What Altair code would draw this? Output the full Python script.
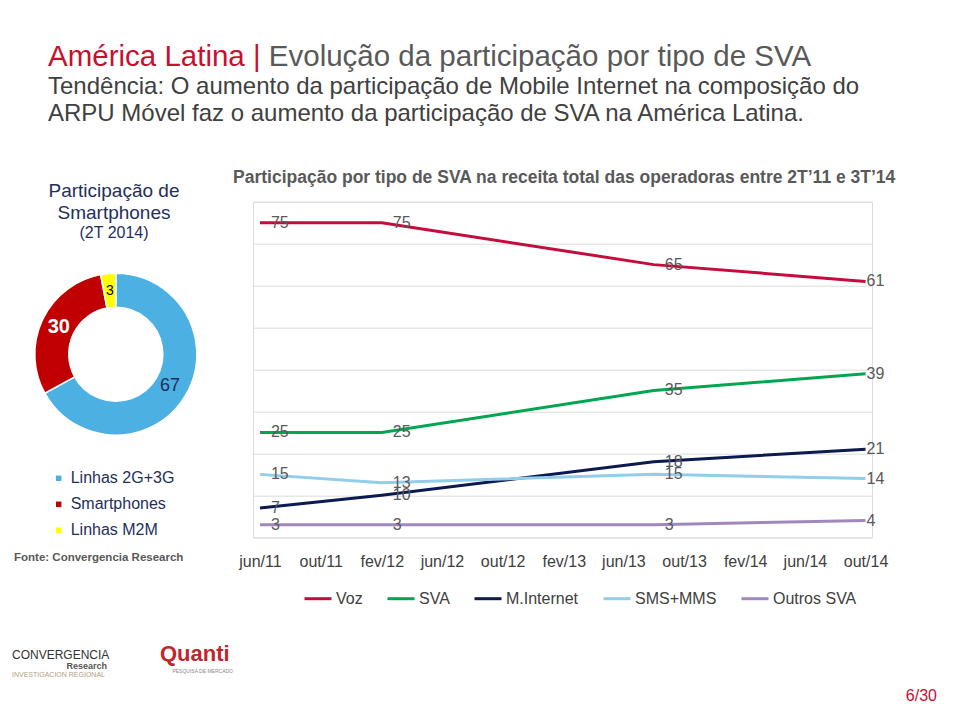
import altair as alt
import pandas as pd

FONT = "Liberation Sans"

# ---------------- data ----------------
PERIODS = ["2011-06-01", "2012-02-01", "2013-08-01", "2014-10-01"]
SERIES = ["Voz", "SVA", "M.Internet", "SMS+MMS", "Outros SVA"]
VOZ = [75, 75, 65, 61]
SVA = [25, 25, 35, 39]
M_INTERNET = [7, 10, 18, 21]
SMS_MMS = [15, 13, 15, 14]
OUTROS_SVA = [3, 3, 3, 4]
SERIES_COLORS = ["#c40d3c", "#00a650", "#0b1a4f", "#92cde9", "#a088bd"]

TICK_KEYS = ["2011-06", "2011-10", "2012-02", "2012-06", "2012-10", "2013-02",
             "2013-06", "2013-10", "2014-02", "2014-06", "2014-10"]
TICK_LABELS = ["jun/11", "out/11", "fev/12", "jun/12", "out/12", "fev/13",
               "jun/13", "out/13", "fev/14", "jun/14", "out/14"]

DONUT_CATS = ["Linhas 2G+3G", "Smartphones", "Linhas M2M"]
DONUT_VALS = [67, 30, 3]
DONUT_COLORS = ["#4cb0e3", "#c00000", "#ffff00"]

# ---------------- tables ----------------
rows = []
for name, vals in zip(SERIES, [VOZ, SVA, M_INTERNET, SMS_MMS, OUTROS_SVA]):
    for i, (p, v) in enumerate(zip(PERIODS, vals)):
        rows.append({"serie": name, "date": p, "value": v, "idx": i})
line_df = pd.DataFrame(rows)

donut_df = pd.DataFrame({"cat": DONUT_CATS, "val": DONUT_VALS,
                         "ord": list(range(len(DONUT_CATS)))})
ONE = pd.DataFrame({"k": [0]})

# ---------------- layout (page coords of the plot area) ----------------
X0, Y0 = 253.0, 201.7
PW, PH = 619, 335.6
CANVAS_W, CANVAS_H = 944, 695
PAD = {"left": X0 - 8, "top": Y0 - 8,
       "right": CANVAS_W - (X0 - 8) - PW, "bottom": CANVAS_H - (Y0 - 8) - PH}


def dt(key, day=1):
    y, m = key.split("-")
    return alt.DateTime(year=int(y), month=int(m), date=day, utc=True)


keys_js = "[" + ",".join(f"'{k}'" for k in TICK_KEYS) + "]"
labs_js = "[" + ",".join(f"'{l}'" for l in TICK_LABELS) + "]"
label_expr = f"{labs_js}[indexof({keys_js}, utcFormat(datum.value, '%Y-%m'))]"

x_enc = alt.X(
    "date:T",
    scale=alt.Scale(type="utc", domain=[dt("2011-05", 18), dt("2014-10", 14)]),
    axis=alt.Axis(values=[dt(k) for k in TICK_KEYS], labelExpr=label_expr,
                  title=None, grid=False, ticks=False, domain=False,
                  labelFontSize=16, labelColor="#404040", labelFont=FONT,
                  labelPadding=16, labelFlush=False, labelOverlap=False),
)
y_enc = alt.Y(
    "value:Q",
    scale=alt.Scale(domain=[0, 80], nice=False),
    axis=alt.Axis(values=list(range(0, 81, 10)), labels=False, ticks=False,
                  domain=False, title=None, grid=True, gridColor="#dcdcdc",
                  gridWidth=1),
)

lines = alt.Chart(line_df).mark_line(strokeWidth=3).encode(
    x=x_enc, y=y_enc,
    color=alt.Color(
        "serie:N",
        scale=alt.Scale(domain=SERIES, range=SERIES_COLORS),
        legend=alt.Legend(orient="none", legendX=50, legendY=382,
                          direction="horizontal", title=None,
                          symbolType="stroke", symbolStrokeWidth=3,
                          symbolSize=729, labelFontSize=16,
                          labelColor="#404040", labelFont=FONT,
                          columnPadding=18, labelOffset=3, padding=0),
    ),
    order=alt.Order("idx:Q"),
)

lab_common = dict(baseline="middle", fontSize=16, color="#595959", font=FONT,
                  align="left")
labels_a = alt.Chart(line_df).transform_filter("datum.idx < 3").mark_text(
    dx=11, **lab_common).encode(x="date:T", y="value:Q", text="value:Q")
labels_b = alt.Chart(line_df).transform_filter("datum.idx == 3").mark_text(
    dx=1, **lab_common).encode(x="date:T", y="value:Q", text="value:Q")

# ---------------- donut ----------------
DCX, DCY = 115.8 - X0, 354.2 - Y0
arc = alt.Chart(donut_df).mark_arc(
    innerRadius=47, outerRadius=81, stroke="white", strokeWidth=1.5
).encode(
    theta=alt.Theta("val:Q", stack=True),
    order=alt.Order("ord:Q"),
    color=alt.Color(
        "cat:N",
        scale=alt.Scale(domain=DONUT_CATS, range=DONUT_COLORS),
        legend=alt.Legend(orient="none", legendX=50.7 - X0, legendY=470.3 - Y0,
                          direction="vertical", title=None,
                          symbolType="square", symbolSize=30,
                          symbolStrokeWidth=0, labelFontSize=16,
                          labelColor="#1f2f5c", labelFont=FONT,
                          rowPadding=10, labelOffset=4, padding=0),
    ),
    x=alt.value(DCX), y=alt.value(DCY),
)


def donut_label(cat, color, size, weight="normal"):
    return alt.Chart(donut_df).mark_text(
        radius=63, fontSize=size, color=color, fontWeight=weight, font=FONT,
        align="center", baseline="middle"
    ).encode(
        theta=alt.Theta("val:Q", stack=True),
        order=alt.Order("ord:Q"),
        text=alt.condition(f"datum.cat == '{cat}'", alt.Text("val:Q"), alt.value("")),
        x=alt.value(DCX), y=alt.value(DCY),
    )


dl1 = donut_label("Linhas 2G+3G", "#1f2f5c", 18)
dl2 = donut_label("Smartphones", "white", 20, "bold")
dl3 = donut_label("Linhas M2M", "black", 14)


# ---------------- text annotations ----------------
def note(text, X, Y, size, color, weight="normal", align="left"):
    return alt.Chart(ONE).mark_text(
        text=text, align=align, baseline="middle", fontSize=size, color=color,
        fontWeight=weight, font=FONT
    ).encode(x=alt.value(X - X0), y=alt.value(Y - Y0))


TITLE_SIZE = 29.5
# width of "América Latina | " in Arial-metric em units (Liberation Sans)
RED_PART_EM = 7.485
notes = [
    note("América Latina |", 48, 57, TITLE_SIZE, "#c8102e"),
    note("Evolução da participação por tipo de SVA",
         48 + RED_PART_EM * TITLE_SIZE, 57, TITLE_SIZE, "#595959"),
    note("Tendência: O aumento da participação de Mobile Internet na composição do",
         48, 87, 24, "#404040"),
    note("ARPU Móvel faz o aumento da participação de SVA na América Latina.",
         48, 114, 24, "#404040"),
    note("Participação de", 114, 191, 19, "#1f2f5c", align="center"),
    note("Smartphones", 114, 213, 19, "#1f2f5c", align="center"),
    note("(2T 2014)", 114, 232.5, 16, "#1f2f5c", align="center"),
    note("Participação por tipo de SVA na receita total das operadoras entre 2T\u201911 e 3T\u201914",
         233, 178, 17.5, "#595959", weight="bold"),
    note("Fonte: Convergencia Research", 14, 558, 11.5, "#595959", weight="bold"),
    note("CONVERGENCIA", 12, 655, 12, "#333333"),
    note("Research", 107, 666, 9, "#555555", weight="bold", align="right"),
    note("INVESTIGACION REGIONAL", 12, 675, 7, "#b0a080"),
    note("Quanti", 160, 654, 22, "#c0272d", weight="bold"),
    note("PESQUISA DE MERCADO", 233, 671, 5, "#888888", align="right"),
    note("6/30", 937, 696, 16, "#c8102e", align="right"),
]

chart = alt.layer(
    lines, labels_a, labels_b, arc, dl1, dl2, dl3, *notes
).resolve_scale(color="independent").properties(
    width=PW, height=PH,
    autosize=alt.AutoSizeParams(type="none"),
    padding=PAD,
    background="white",
).configure_view(stroke=None).configure(font=FONT)

chart.save("out.html", embed_options={"renderer": "svg", "actions": False})
